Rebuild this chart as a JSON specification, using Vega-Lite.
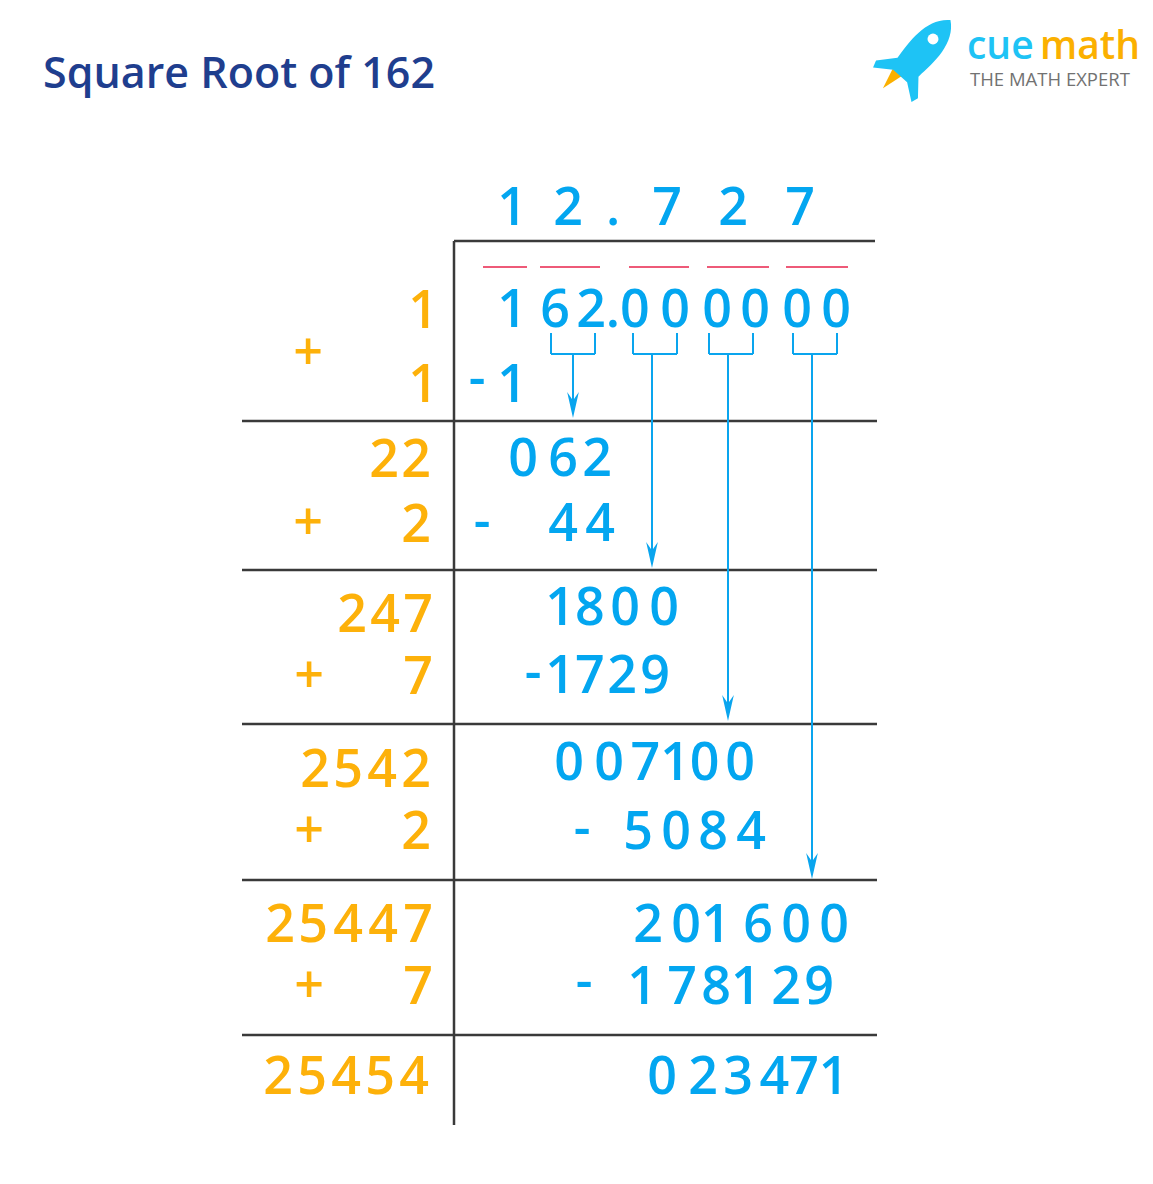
{
  "$schema": "https://vega.github.io/schema/vega-lite/v6.json",
  "width": 1153,
  "height": 1184,
  "autosize": {"type": "fit", "contains": "padding"},
  "padding": 0,
  "background": "white",
  "config": {"view": {"stroke": null}},
  "datasets": {
    "digits": [
      {"x": 512, "y": 225, "t": "1", "g": "quotient"},
      {"x": 568, "y": 225, "t": "2", "g": "quotient"},
      {"x": 613, "y": 225, "t": ".", "g": "quotient"},
      {"x": 667, "y": 225, "t": "7", "g": "quotient"},
      {"x": 733, "y": 225, "t": "2", "g": "quotient"},
      {"x": 800, "y": 225, "t": "7", "g": "quotient"},
      {"x": 512, "y": 327, "t": "1", "g": "work"},
      {"x": 555, "y": 327, "t": "6", "g": "work"},
      {"x": 613, "y": 327, "t": "2.0", "g": "work"},
      {"x": 675, "y": 327, "t": "0", "g": "work"},
      {"x": 717, "y": 327, "t": "0", "g": "work"},
      {"x": 755, "y": 327, "t": "0", "g": "work"},
      {"x": 797, "y": 327, "t": "0", "g": "work"},
      {"x": 836, "y": 327, "t": "0", "g": "work"},
      {"x": 477, "y": 396, "t": "-", "g": "work"},
      {"x": 512, "y": 402, "t": "1", "g": "work"},
      {"x": 523, "y": 476, "t": "0", "g": "work"},
      {"x": 563, "y": 476, "t": "6", "g": "work"},
      {"x": 597, "y": 476, "t": "2", "g": "work"},
      {"x": 482, "y": 539, "t": "-", "g": "work"},
      {"x": 563, "y": 541, "t": "4", "g": "work"},
      {"x": 600, "y": 541, "t": "4", "g": "work"},
      {"x": 575, "y": 625, "t": "18", "g": "work"},
      {"x": 625, "y": 625, "t": "0", "g": "work"},
      {"x": 664, "y": 625, "t": "0", "g": "work"},
      {"x": 533, "y": 690, "t": "-", "g": "work"},
      {"x": 575, "y": 693, "t": "17", "g": "work"},
      {"x": 622, "y": 693, "t": "2", "g": "work"},
      {"x": 655, "y": 693, "t": "9", "g": "work"},
      {"x": 569, "y": 780, "t": "0", "g": "work"},
      {"x": 609, "y": 780, "t": "0", "g": "work"},
      {"x": 675, "y": 780, "t": "710", "g": "work"},
      {"x": 740, "y": 780, "t": "0", "g": "work"},
      {"x": 582, "y": 846, "t": "-", "g": "work"},
      {"x": 638, "y": 849, "t": "5", "g": "work"},
      {"x": 676, "y": 849, "t": "0", "g": "work"},
      {"x": 713, "y": 849, "t": "8", "g": "work"},
      {"x": 751, "y": 849, "t": "4", "g": "work"},
      {"x": 648, "y": 942, "t": "2", "g": "work"},
      {"x": 701, "y": 942, "t": "01", "g": "work"},
      {"x": 758, "y": 942, "t": "6", "g": "work"},
      {"x": 796, "y": 942, "t": "0", "g": "work"},
      {"x": 834, "y": 942, "t": "0", "g": "work"},
      {"x": 584, "y": 999, "t": "-", "g": "work"},
      {"x": 642, "y": 1004, "t": "1", "g": "work"},
      {"x": 682, "y": 1004, "t": "7", "g": "work"},
      {"x": 731, "y": 1004, "t": "81", "g": "work"},
      {"x": 786, "y": 1004, "t": "2", "g": "work"},
      {"x": 819, "y": 1004, "t": "9", "g": "work"},
      {"x": 662, "y": 1094, "t": "0", "g": "work"},
      {"x": 703, "y": 1094, "t": "2", "g": "work"},
      {"x": 738, "y": 1094, "t": "3", "g": "work"},
      {"x": 804, "y": 1094, "t": "471", "g": "work"},
      {"x": 423, "y": 328, "t": "1", "g": "divisor"},
      {"x": 308, "y": 370, "t": "+", "g": "divisor"},
      {"x": 423, "y": 402, "t": "1", "g": "divisor"},
      {"x": 384, "y": 477, "t": "2", "g": "divisor"},
      {"x": 416, "y": 477, "t": "2", "g": "divisor"},
      {"x": 308, "y": 540, "t": "+", "g": "divisor"},
      {"x": 416, "y": 542, "t": "2", "g": "divisor"},
      {"x": 352, "y": 632, "t": "2", "g": "divisor"},
      {"x": 385, "y": 632, "t": "4", "g": "divisor"},
      {"x": 418, "y": 632, "t": "7", "g": "divisor"},
      {"x": 309, "y": 693, "t": "+", "g": "divisor"},
      {"x": 418, "y": 694, "t": "7", "g": "divisor"},
      {"x": 315, "y": 787, "t": "2", "g": "divisor"},
      {"x": 348, "y": 787, "t": "5", "g": "divisor"},
      {"x": 382, "y": 787, "t": "4", "g": "divisor"},
      {"x": 416, "y": 787, "t": "2", "g": "divisor"},
      {"x": 309, "y": 848, "t": "+", "g": "divisor"},
      {"x": 416, "y": 849, "t": "2", "g": "divisor"},
      {"x": 280, "y": 942, "t": "2", "g": "divisor"},
      {"x": 313, "y": 942, "t": "5", "g": "divisor"},
      {"x": 348, "y": 942, "t": "4", "g": "divisor"},
      {"x": 383, "y": 942, "t": "4", "g": "divisor"},
      {"x": 418, "y": 942, "t": "7", "g": "divisor"},
      {"x": 309, "y": 1003, "t": "+", "g": "divisor"},
      {"x": 418, "y": 1004, "t": "7", "g": "divisor"},
      {"x": 278, "y": 1094, "t": "2", "g": "divisor"},
      {"x": 312, "y": 1094, "t": "5", "g": "divisor"},
      {"x": 346, "y": 1094, "t": "4", "g": "divisor"},
      {"x": 380, "y": 1094, "t": "5", "g": "divisor"},
      {"x": 414, "y": 1094, "t": "4", "g": "divisor"}
    ],
    "segments": [
      {"x1": 454, "y1": 241, "x2": 875, "y2": 241, "k": "frame"},
      {"x1": 454, "y1": 241, "x2": 454, "y2": 1125, "k": "frame"},
      {"x1": 242, "y1": 421, "x2": 877, "y2": 421, "k": "frame"},
      {"x1": 242, "y1": 570, "x2": 877, "y2": 570, "k": "frame"},
      {"x1": 242, "y1": 724, "x2": 877, "y2": 724, "k": "frame"},
      {"x1": 242, "y1": 880, "x2": 877, "y2": 880, "k": "frame"},
      {"x1": 242, "y1": 1035, "x2": 877, "y2": 1035, "k": "frame"},
      {"x1": 483, "y1": 267, "x2": 527, "y2": 267, "k": "pair"},
      {"x1": 540, "y1": 267, "x2": 600, "y2": 267, "k": "pair"},
      {"x1": 629, "y1": 267, "x2": 689, "y2": 267, "k": "pair"},
      {"x1": 707, "y1": 267, "x2": 769, "y2": 267, "k": "pair"},
      {"x1": 786, "y1": 267, "x2": 848, "y2": 267, "k": "pair"},
      {"x1": 551, "y1": 333, "x2": 551, "y2": 354, "k": "bracket"},
      {"x1": 551, "y1": 354, "x2": 595, "y2": 354, "k": "bracket"},
      {"x1": 595, "y1": 333, "x2": 595, "y2": 354, "k": "bracket"},
      {"x1": 633, "y1": 333, "x2": 633, "y2": 354, "k": "bracket"},
      {"x1": 633, "y1": 354, "x2": 677, "y2": 354, "k": "bracket"},
      {"x1": 677, "y1": 333, "x2": 677, "y2": 354, "k": "bracket"},
      {"x1": 709, "y1": 333, "x2": 709, "y2": 354, "k": "bracket"},
      {"x1": 709, "y1": 354, "x2": 753, "y2": 354, "k": "bracket"},
      {"x1": 753, "y1": 333, "x2": 753, "y2": 354, "k": "bracket"},
      {"x1": 793, "y1": 333, "x2": 793, "y2": 354, "k": "bracket"},
      {"x1": 793, "y1": 354, "x2": 837, "y2": 354, "k": "bracket"},
      {"x1": 837, "y1": 333, "x2": 837, "y2": 354, "k": "bracket"},
      {"x1": 573, "y1": 354, "x2": 573, "y2": 410, "k": "bracket"},
      {"x1": 652, "y1": 354, "x2": 652, "y2": 560, "k": "bracket"},
      {"x1": 728, "y1": 354, "x2": 728, "y2": 713, "k": "bracket"},
      {"x1": 812, "y1": 354, "x2": 812, "y2": 871, "k": "bracket"}
    ],
    "heads": [
      {"x": 573, "y": 405},
      {"x": 652, "y": 555},
      {"x": 728, "y": 708},
      {"x": 812, "y": 866}
    ],
    "labels": [
      {"x": 43, "y": 88, "t": "Square Root of 162", "g": "title"},
      {"x": 967, "y": 59, "t": "cue", "g": "cue"},
      {"x": 1040, "y": 59, "t": "math", "g": "math"},
      {"x": 970, "y": 86, "t": "THE MATH EXPERT", "g": "tag"}
    ],
    "rocket": [
      {"x": 919, "y": 55, "p": "body"},
      {"x": 893, "y": 77, "p": "flame"},
      {"x": 933, "y": 39, "p": "window"}
    ]
  },
  "encoding": {
    "x": {"field": "x", "type": "quantitative", "scale": {"domain": [0, 1153], "nice": false, "zero": false}, "axis": null},
    "y": {"field": "y", "type": "quantitative", "scale": {"domain": [0, 1184], "nice": false, "zero": false, "reverse": true}, "axis": null}
  },
  "layer": [
    {
      "data": {"name": "segments"},
      "transform": [{"filter": "datum.k === 'frame'"}],
      "mark": {"type": "rule", "color": "#3a3a3a", "strokeWidth": 2.5},
      "encoding": {
        "x": {"field": "x1", "type": "quantitative", "scale": {"domain": [0, 1153], "nice": false, "zero": false}, "axis": null},
        "y": {"field": "y1", "type": "quantitative", "scale": {"domain": [0, 1184], "nice": false, "zero": false, "reverse": true}, "axis": null},
        "x2": {"field": "x2"},
        "y2": {"field": "y2"}
      }
    },
    {
      "data": {"name": "segments"},
      "transform": [{"filter": "datum.k === 'pair'"}],
      "mark": {"type": "rule", "color": "#ee5a78", "strokeWidth": 2},
      "encoding": {
        "x": {"field": "x1", "type": "quantitative", "axis": null},
        "y": {"field": "y1", "type": "quantitative", "axis": null},
        "x2": {"field": "x2"},
        "y2": {"field": "y2"}
      }
    },
    {
      "data": {"name": "segments"},
      "transform": [{"filter": "datum.k === 'bracket'"}],
      "mark": {"type": "rule", "color": "#0aa5ee", "strokeWidth": 2},
      "encoding": {
        "x": {"field": "x1", "type": "quantitative", "axis": null},
        "y": {"field": "y1", "type": "quantitative", "axis": null},
        "x2": {"field": "x2"},
        "y2": {"field": "y2"}
      }
    },
    {
      "data": {"name": "heads"},
      "mark": {"type": "point", "filled": true, "opacity": 1, "color": "#0aa5ee", "size": 676, "shape": "M0,1 L-0.45,-1 L0,-0.35 L0.45,-1 Z"}
    },
    {
      "data": {"name": "digits"},
      "mark": {"type": "text", "font": "Open Sans", "fontSize": 52, "fontWeight": 600, "align": "center", "baseline": "alphabetic"},
      "encoding": {
        "text": {"field": "t"},
        "color": {"field": "g", "type": "nominal", "scale": {"domain": ["quotient", "work", "divisor"], "range": ["#03a6f0", "#03a6f0", "#fdb10a"]}, "legend": null}
      }
    },
    {
      "data": {"name": "labels"},
      "transform": [{"filter": "datum.g === 'title'"}],
      "mark": {"type": "text", "font": "Open Sans", "fontSize": 43, "fontWeight": 600, "align": "left", "baseline": "alphabetic", "color": "#1f3e8e"},
      "encoding": {"text": {"field": "t"}}
    },
    {
      "data": {"name": "labels"},
      "transform": [{"filter": "datum.g === 'cue'"}],
      "mark": {"type": "text", "font": "Open Sans", "fontSize": 39, "fontWeight": 600, "align": "left", "baseline": "alphabetic", "color": "#1ec3f5"},
      "encoding": {"text": {"field": "t"}}
    },
    {
      "data": {"name": "labels"},
      "transform": [{"filter": "datum.g === 'math'"}],
      "mark": {"type": "text", "font": "Open Sans", "fontSize": 39, "fontWeight": 600, "align": "left", "baseline": "alphabetic", "color": "#fbb000"},
      "encoding": {"text": {"field": "t"}}
    },
    {
      "data": {"name": "labels"},
      "transform": [{"filter": "datum.g === 'tag'"}],
      "mark": {"type": "text", "font": "Open Sans", "fontSize": 18.5, "fontWeight": 500, "align": "left", "baseline": "alphabetic", "color": "#727272"},
      "encoding": {"text": {"field": "t"}}
    },
    {
      "data": {"name": "rocket"},
      "transform": [{"filter": "datum.p === 'flame'"}],
      "mark": {"type": "point", "filled": true, "opacity": 1, "color": "#fbb000", "size": 900, "angle": 42, "shape": "M-0.55,-1 L0.55,-1 L0,1 Z"}
    },
    {
      "data": {"name": "rocket"},
      "transform": [{"filter": "datum.p === 'body'"}],
      "mark": {"type": "point", "filled": true, "opacity": 1, "color": "#1ec3f5", "size": 8836, "angle": 42, "shape": "M0,-1 C0.4,-0.7 0.35,-0.1 0.3,0.35 L0.6,0.7 L0.55,0.85 L0.2,0.6 L-0.2,0.6 L-0.55,0.85 L-0.6,0.7 L-0.3,0.35 C-0.35,-0.1 -0.4,-0.7 0,-1 Z"}
    },
    {
      "data": {"name": "rocket"},
      "transform": [{"filter": "datum.p === 'window'"}],
      "mark": {"type": "point", "filled": true, "opacity": 1, "color": "white", "size": 120, "shape": "circle"}
    }
  ]
}
